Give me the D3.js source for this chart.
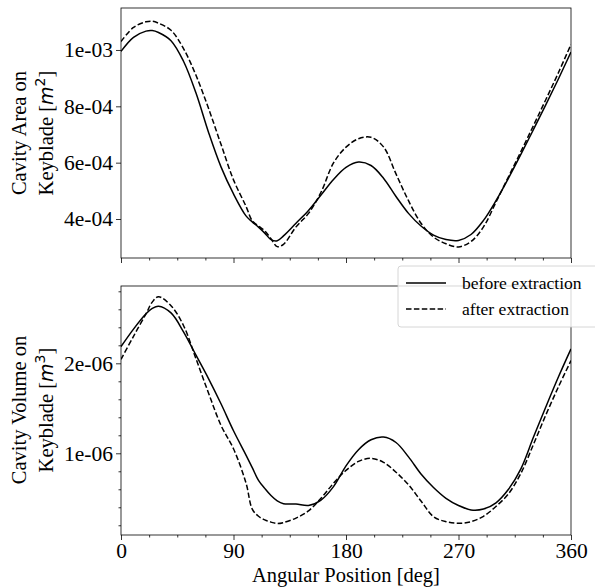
<!DOCTYPE html>
<html>
<head>
<meta charset="utf-8">
<script src="https://cdn.jsdelivr.net/npm/d3@7"></script>
<style>
  body { margin: 0; background: #fff; }
  text { font-family: "Liberation Serif", "Times New Roman", serif; fill: #000; }
  .math { font-family: "DejaVu Sans", sans-serif; font-style: italic; }
  .sup { font-family: "DejaVu Sans", sans-serif; }
</style>
</head>
<body>
<svg id="chart"></svg>
<script>
// angular positions [deg]
var angles = [0, 10, 20, 25, 30, 40, 50, 60, 70, 80, 90, 100, 105, 110, 115, 120, 125, 130,
    140, 150, 160, 170, 180, 190, 200, 210, 220, 230, 240, 250, 260, 270, 280, 290,
    300, 310, 320, 330, 340, 350, 360];

// cavity area on keyblade [1e-4 m^2]
var areaBefore = [9.95, 10.45, 10.67, 10.69, 10.62, 10.33, 9.6, 8.47, 7.08, 5.85, 4.89, 4.11, 3.9, 3.71, 3.5, 3.27, 3.23, 3.4,
    3.85, 4.3, 4.85, 5.4, 5.83, 6.02, 5.9, 5.45, 4.8, 4.2, 3.75, 3.43, 3.27, 3.24, 3.45, 3.95,
    4.65, 5.45, 6.3, 7.18, 8.07, 8.98, 9.93];
var areaAfter = [10.3, 10.8, 11.0, 11.02, 10.95, 10.7, 10.05, 9.1, 7.93, 6.65, 5.39, 4.45, 3.94, 3.75, 3.58, 3.3, 3.02, 3.1,
    3.72, 4.2, 4.95, 5.99, 6.55, 6.85, 6.9, 6.56, 5.6, 4.65, 3.85, 3.36, 3.12, 3.01, 3.2, 3.72,
    4.6, 5.5, 6.4, 7.32, 8.25, 9.2, 10.2];

// cavity volume on keyblade [1e-6 m^3]
var volBefore = [2.185, 2.38, 2.55, 2.61, 2.635, 2.56, 2.35, 2.09, 1.83, 1.55, 1.25, 0.98, 0.84, 0.7, 0.61, 0.53, 0.47, 0.44,
    0.437, 0.42, 0.48, 0.63, 0.86, 1.04, 1.15, 1.18, 1.12, 0.96, 0.77, 0.62, 0.5, 0.42, 0.37, 0.38,
    0.45, 0.6, 0.83, 1.18, 1.52, 1.85, 2.16];
var volAfter = [2.044, 2.3, 2.55, 2.68, 2.74, 2.64, 2.42, 2.05, 1.67, 1.31, 1.05, 0.67, 0.38, 0.3, 0.26, 0.235, 0.22, 0.23,
    0.28, 0.36, 0.5, 0.667, 0.81, 0.91, 0.944, 0.9, 0.79, 0.65, 0.47, 0.296, 0.24, 0.222, 0.24, 0.3,
    0.41, 0.55, 0.78, 1.1, 1.43, 1.74, 2.03];

var xTicks = [0, 90, 180, 270, 360];
var xMinor = [22.5, 45, 67.5, 112.5, 135, 157.5, 202.5, 225, 247.5, 292.5, 315, 337.5];
var areaTicks = [4e-4, 6e-4, 8e-4, 1e-3];
var areaLabels = ["4e-04", "6e-04", "8e-04", "1e-03"];
var volTicks = [1e-6, 2e-6];
var volLabels = ["1e-06", "2e-06"];
var volMinor = [0.2, 0.4, 0.6, 0.8, 1.2, 1.4, 1.6, 1.8, 2.2, 2.4, 2.6, 2.8];
var seriesNames = ["before extraction", "after extraction"];

var width = 595,
    height = 587;

var left = 121, right = 571;

var svg = d3.select("#chart")
    .attr("width", width)
    .attr("height", height);

var x = d3.scaleLinear().domain([0, 360]).range([left, right]);

var yArea = d3.scaleLinear().domain([2.616e-4, 1.149e-3]).range([258, 8]);
var yVol = d3.scaleLinear().domain([0.092e-6, 2.859e-6]).range([535, 286]);

function drawPanel(id, y, unit, top, bottom, series, yTicks, yLabels, yMinor, showX) {
    var g = svg.append("g").attr("class", id);

    g.append("clipPath").attr("id", "clip-" + id)
        .append("rect")
        .attr("x", left).attr("y", top)
        .attr("width", right - left).attr("height", bottom - top);

    var line = d3.line()
        .x(function(d){ return x(d[0]); })
        .y(function(d){ return y(d[1] * unit); })
        .curve(d3.curveCatmullRom.alpha(0.5));

    series.forEach(function(s, i){
        g.append("path")
            .datum(angles.map(function(a, j){ return [a, s[j]]; }))
            .attr("clip-path", "url(#clip-" + id + ")")
            .attr("fill", "none")
            .attr("stroke", "#000")
            .attr("stroke-width", 1.5)
            .attr("stroke-dasharray", i == 1 ? "5.5,2.4" : null)
            .attr("d", line);
    });

    // axes
    var xAxis = d3.axisBottom(x).tickValues(xTicks).tickSize(5).tickPadding(3)
        .tickFormat(showX ? d3.format("d") : function(){ return ""; });
    var xAxisMinor = d3.axisBottom(x).tickValues(xMinor).tickSize(2.5).tickFormat("");
    var yAxis = d3.axisLeft(y).tickValues(yTicks).tickSize(5).tickPadding(3)
        .tickFormat(function(d, i){ return yLabels[i]; });

    g.append("g").attr("transform", "translate(0," + bottom + ")").call(xAxisMinor);
    g.append("g").attr("transform", "translate(0," + bottom + ")").call(xAxis);
    if (yMinor) {
        g.append("g").attr("transform", "translate(" + left + ",0)")
            .call(d3.axisLeft(y).tickValues(yMinor.map(function(v){ return v * unit; }))
                .tickSize(2.5).tickFormat(""));
    }
    g.append("g").attr("transform", "translate(" + left + ",0)").call(yAxis);

    g.selectAll(".domain").remove();
    g.selectAll(".tick line").attr("stroke", "#000").attr("stroke-width", 0.8);
    g.selectAll(".tick text")
        .style("font-family", "'Liberation Serif', serif")
        .style("font-size", "21.5px")
        .attr("fill", "#000");

    g.append("rect")
        .attr("x", left).attr("y", top)
        .attr("width", right - left).attr("height", bottom - top)
        .attr("fill", "none")
        .attr("stroke", "#000")
        .attr("stroke-width", 0.8);
}

drawPanel("area", yArea, 1e-4, 8, 258, [areaBefore, areaAfter], areaTicks, areaLabels, null, false);
drawPanel("vol", yVol, 1e-6, 286, 535, [volBefore, volAfter], volTicks, volLabels, volMinor, true);

// y labels
function yLabel(cy, first, word, power) {
    var t = svg.append("g").attr("transform", "translate(0," + cy + ") rotate(-90)");
    t.append("text")
        .attr("x", 0).attr("y", 26)
        .attr("text-anchor", "middle")
        .style("font-size", "20.5px")
        .text(first);
    var t2 = t.append("text")
        .attr("x", 0).attr("y", 53)
        .attr("text-anchor", "middle")
        .style("font-size", "20.5px");
    t2.append("tspan").text(word + " [");
    t2.append("tspan").attr("class", "math").style("font-size", "19px").text("m");
    t2.append("tspan").attr("class", "sup").style("font-size", "14px").attr("dy", -8).text(power);
    t2.append("tspan").attr("dy", 8).text("]");
}
yLabel(133, "Cavity Area on", "Keyblade", "2");
yLabel(410, "Cavity Volume on", "Keyblade", "3");

// x label
svg.append("text")
    .attr("x", (left + right) / 2)
    .attr("y", 582)
    .attr("text-anchor", "middle")
    .style("font-size", "20.5px")
    .text("Angular Position [deg]");

// legend
var legend = svg.append("g").attr("transform", "translate(398,266)");
legend.append("rect")
    .attr("width", 200).attr("height", 61)
    .attr("rx", 3)
    .attr("fill", "#fff").attr("fill-opacity", 0.8)
    .attr("stroke", "#ccc").attr("stroke-width", 0.8);

seriesNames.forEach(function(name, i){
    var ly = 17 + i * 26;
    legend.append("line")
        .attr("x1", 8).attr("x2", 48)
        .attr("y1", ly).attr("y2", ly)
        .attr("stroke", "#000").attr("stroke-width", 1.5)
        .attr("stroke-dasharray", i == 1 ? "5.5,2.4" : null);
    legend.append("text")
        .attr("x", 64).attr("y", ly + 6)
        .style("font-size", "17.6px")
        .text(name);
});
</script>
</body>
</html>
